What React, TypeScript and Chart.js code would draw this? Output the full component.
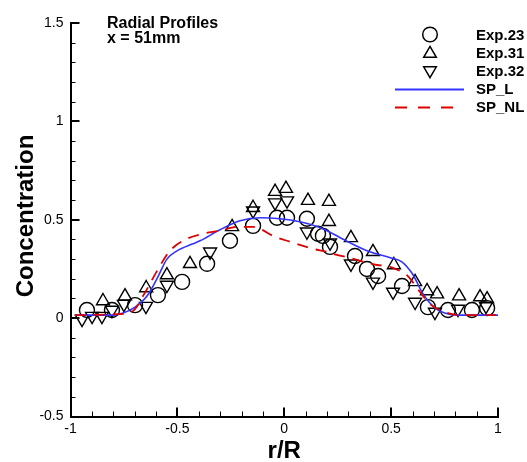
import React, { useEffect, useRef } from "react";
import { Chart, registerables } from "chart.js";

Chart.register(...registerables);

// ---- Data ----
const exp23X = [-0.923, -0.806, -0.698, -0.591, -0.478, -0.361, -0.254, -0.146, -0.034, 0.013, 0.106, 0.158, 0.181, 0.214, 0.331, 0.387, 0.439, 0.551, 0.672, 0.766, 0.878, 0.949];
const exp23Y = [0.041, 0.041, 0.066, 0.117, 0.184, 0.276, 0.393, 0.469, 0.51, 0.51, 0.505, 0.429, 0.418, 0.362, 0.316, 0.25, 0.214, 0.163, 0.056, 0.041, 0.041, 0.051];

const exp31X = [-0.848, -0.745, -0.646, -0.549, -0.441, -0.244, -0.146, -0.043, 0.008, 0.111, 0.209, 0.209, 0.312, 0.415, 0.513, 0.612, 0.668, 0.715, 0.818, 0.916, 0.949];
const exp31Y = [0.087, 0.112, 0.153, 0.219, 0.276, 0.464, 0.561, 0.643, 0.658, 0.597, 0.592, 0.49, 0.408, 0.337, 0.27, 0.184, 0.138, 0.122, 0.112, 0.107, 0.097];

const exp32X = [-0.946, -0.899, -0.853, -0.806, -0.75, -0.647, -0.549, -0.347, -0.146, -0.043, 0.013, 0.106, 0.214, 0.312, 0.415, 0.509, 0.612, 0.705, 0.813, 0.944];
const exp32Y = [-0.005, 0.01, 0.01, 0.041, 0.071, 0.061, 0.168, 0.337, 0.546, 0.587, 0.597, 0.439, 0.383, 0.276, 0.184, 0.133, 0.082, 0.031, 0.046, 0.061];

const spLX = [-0.98, -0.8, -0.754, -0.698, -0.642, -0.591, -0.549, -0.502, -0.427, -0.394, -0.301, -0.207, -0.113, -0.02, 0.073, 0.15, 0.2, 0.3, 0.4, 0.5, 0.55, 0.6, 0.65, 0.7, 0.75, 0.82, 1.0];
const spLY = [0.015, 0.015, 0.026, 0.056, 0.112, 0.21, 0.3, 0.342, 0.378, 0.393, 0.449, 0.495, 0.51, 0.505, 0.49, 0.467, 0.444, 0.387, 0.337, 0.306, 0.286, 0.224, 0.122, 0.056, 0.026, 0.015, 0.015];

const spNLX = [-0.98, -0.778, -0.708, -0.661, -0.595, -0.535, -0.455, -0.38, -0.301, -0.221, -0.146, -0.113, -0.053, 0.027, 0.088, 0.134, 0.2, 0.247, 0.308, 0.354, 0.434, 0.481, 0.541, 0.574, 0.635, 0.682, 0.752, 0.822, 1.0];
const spNLY = [0.015, 0.02, 0.036, 0.112, 0.24, 0.342, 0.403, 0.429, 0.444, 0.464, 0.464, 0.454, 0.418, 0.388, 0.367, 0.352, 0.337, 0.321, 0.306, 0.291, 0.27, 0.265, 0.24, 0.219, 0.133, 0.071, 0.031, 0.015, 0.015];

const xTickValues = [-1, -0.5, 0, 0.5, 1];
const yTickValues = [-0.5, 0, 0.5, 1, 1.5];
const legendLabels = ["Exp.23", "Exp.31", "Exp.32", "SP_L", "SP_NL"];
const titleLines = ["Radial Profiles", "x = 51mm"];
const xTitle = "r/R";
const yTitle = "Concentration";

const FONT = '"Liberation Sans", Arial, Helvetica, sans-serif';
const BLUE = "#3333ff";
const RED = "#dd0000";

const pts = (xs: number[], ys: number[]) => xs.map((x, i) => ({ x, y: ys[i] }));

function drawMarker(ctx: CanvasRenderingContext2D, kind: string, x: number, y: number, r: number) {
  ctx.beginPath();
  if (kind === "circle") {
    ctx.arc(x, y, r, 0, Math.PI * 2);
  } else {
    const dir = kind === "up" ? 1 : -1;
    const w = r * Math.sqrt(3) / 2;
    ctx.moveTo(x, y - dir * r);
    ctx.lineTo(x + w, y + dir * r / 2);
    ctx.lineTo(x - w, y + dir * r / 2);
    ctx.closePath();
  }
  ctx.stroke();
}

const decorPlugin = {
  id: "decor",
  afterDraw(chart: any) {
    const ctx: CanvasRenderingContext2D = chart.ctx;
    const xs = chart.scales.x;
    const ys = chart.scales.y;
    const { left, bottom } = chart.chartArea;
    ctx.save();
    ctx.strokeStyle = "#000";
    // x ticks (inward)
    for (let i = -10; i <= 10; i++) {
      const major = i % 5 === 0;
      const px = xs.getPixelForValue(i / 10);
      ctx.lineWidth = major ? 2 : 1;
      const p = major ? Math.round(px) : Math.round(px) + 0.5;
      ctx.beginPath();
      ctx.moveTo(p, bottom);
      ctx.lineTo(p, bottom - (major ? 9 : 5));
      ctx.stroke();
    }
    // y ticks (inward)
    for (let i = -5; i <= 15; i++) {
      const major = i % 5 === 0;
      const py = ys.getPixelForValue(i / 10);
      ctx.lineWidth = major ? 2 : 1;
      const p = major ? Math.round(py) : Math.round(py) + 0.5;
      ctx.beginPath();
      ctx.moveTo(left, p);
      ctx.lineTo(left + (major ? 9 : 5), p);
      ctx.stroke();
    }
    // axis titles
    ctx.fillStyle = "#000";
    ctx.font = `bold 24px ${FONT}`;
    ctx.textAlign = "center";
    ctx.textBaseline = "alphabetic";
    ctx.fillText(xTitle, (chart.chartArea.left + chart.chartArea.right) / 2, 458);
    ctx.save();
    ctx.translate(33, 216);
    ctx.rotate(-Math.PI / 2);
    ctx.fillText(yTitle, 0, 0);
    ctx.restore();
    // plot title
    ctx.textAlign = "left";
    ctx.font = `bold 16px ${FONT}`;
    ctx.fillText(titleLines[0], 107, 28);
    ctx.fillText(titleLines[1], 107, 43);
    // legend
    const kinds = ["circle", "up", "down", "lineL", "lineNL"];
    ctx.font = `bold 15px ${FONT}`;
    ctx.textBaseline = "middle";
    legendLabels.forEach((lab, i) => {
      const y = 34.5 + i * 18.2;
      const k = kinds[i];
      if (k === "lineL" || k === "lineNL") {
        ctx.save();
        ctx.strokeStyle = k === "lineL" ? BLUE : RED;
        ctx.lineWidth = 2;
        if (k === "lineNL") ctx.setLineDash([12, 11]);
        ctx.beginPath();
        ctx.moveTo(395, Math.round(y) + 0.5);
        ctx.lineTo(464, Math.round(y) + 0.5);
        ctx.stroke();
        ctx.restore();
      } else {
        ctx.lineWidth = 1.5;
        ctx.strokeStyle = "#000";
        drawMarker(ctx, k, 430, y + (k === "up" ? 1 : k === "down" ? -0.5 : 0), 7.3);
      }
      ctx.fillStyle = "#000";
      ctx.fillText(lab, 476, y + 1);
    });
    ctx.restore();
  },
};

export default function App() {
  const ref = useRef<HTMLCanvasElement | null>(null);
  useEffect(() => {
    if (!ref.current) return;
    const markerBase = {
      type: "scatter" as const,
      showLine: false,
      backgroundColor: "rgba(0,0,0,0)",
      borderColor: "#000",
      pointBorderWidth: 1.4,
      pointHoverRadius: 7.5,
      clip: false as any,
      order: 2,
    };
    const chart = new Chart(ref.current, {
      type: "scatter",
      data: {
        datasets: [
          { ...markerBase, label: legendLabels[0], data: pts(exp23X, exp23Y), pointStyle: "circle", pointRadius: 7.5 },
          { ...markerBase, label: legendLabels[1], data: pts(exp31X, exp31Y), pointStyle: "triangle", pointRadius: 7.5 },
          { ...markerBase, label: legendLabels[2], data: pts(exp32X, exp32Y), pointStyle: "triangle", pointRadius: 7.5, pointRotation: 180 },
          {
            type: "line" as any,
            label: legendLabels[3],
            data: pts(spLX, spLY),
            borderColor: BLUE,
            borderWidth: 1.6,
            pointRadius: 0,
            fill: false,
            cubicInterpolationMode: "monotone",
            order: 1,
          },
          {
            type: "line" as any,
            label: legendLabels[4],
            data: pts(spNLX, spNLY),
            borderColor: RED,
            borderWidth: 1.8,
            borderDash: [11, 8],
            pointRadius: 0,
            fill: false,
            cubicInterpolationMode: "monotone",
            order: 0,
          },
        ] as any,
      },
      options: {
        responsive: false,
        animation: false,
        events: [],
        layout: { padding: { left: 0, right: 29, top: 23, bottom: 0 } },
        plugins: { legend: { display: false }, tooltip: { enabled: false }, title: { display: false } },
        scales: {
          x: {
            type: "linear",
            min: -1,
            max: 1,
            afterFit: (s: any) => { s.height = 45.5; },
            afterBuildTicks: (s: any) => { s.ticks = xTickValues.map((v) => ({ value: v })); },
            grid: { display: false, drawTicks: false },
            border: { display: true, color: "#000", width: 2 },
            ticks: {
              padding: 4,
              color: "#000",
              font: { family: FONT, size: 14 },
              maxRotation: 0,
              autoSkip: false,
              callback: (v: any) => String(v),
            },
          },
          y: {
            type: "linear",
            min: -0.5,
            max: 1.5,
            afterFit: (s: any) => { s.width = 70.5; },
            afterBuildTicks: (s: any) => { s.ticks = yTickValues.map((v) => ({ value: v })); },
            grid: { display: false, drawTicks: false },
            border: { display: true, color: "#000", width: 2 },
            ticks: {
              padding: 7,
              color: "#000",
              font: { family: FONT, size: 14 },
              autoSkip: false,
              callback: (v: any) => String(v),
            },
          },
        },
      } as any,
      plugins: [decorPlugin],
    });
    return () => chart.destroy();
  }, []);
  return (
    <div style={{ position: "absolute", left: 0, top: 0, width: 527, height: 462, background: "#fff" }}>
      <canvas ref={ref} width={527} height={462} style={{ display: "block", width: 527, height: 462 }} />
    </div>
  );
}
